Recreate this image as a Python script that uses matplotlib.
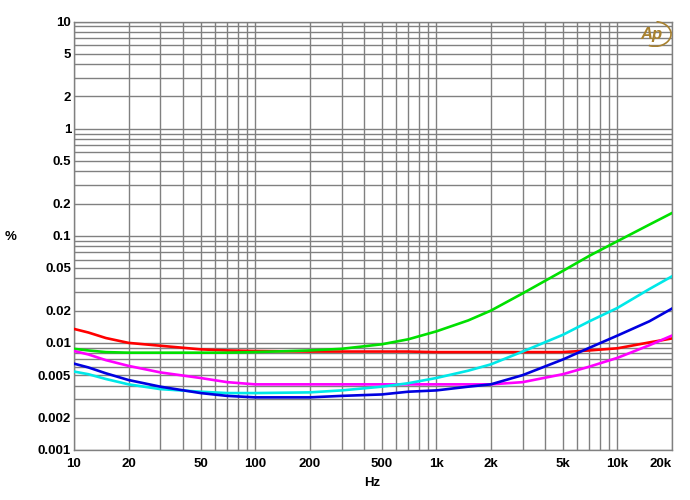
import matplotlib
matplotlib.use("Agg")
import matplotlib.pyplot as plt
from matplotlib.patches import Arc
from matplotlib.ticker import FixedLocator, NullFormatter

# ---------- Date ----------
freq = [10, 12, 15, 20, 30, 50, 70, 100, 200, 300, 500, 700,
        1000, 1500, 2000, 3000, 5000, 7000, 10000, 15000, 20000]

red = [0.0135, 0.0125, 0.0111, 0.0100, 0.0094, 0.0087, 0.0085, 0.0084, 0.0083, 0.0083, 0.0083, 0.0083,
       0.0082, 0.0082, 0.0082, 0.0082, 0.0082, 0.0085, 0.0089, 0.0101, 0.0110]
green = [0.0088, 0.0085, 0.0082, 0.0081, 0.0081, 0.0081, 0.0081, 0.0082, 0.0085, 0.0088, 0.0097, 0.0108,
         0.0128, 0.0162, 0.0200, 0.0290, 0.0470, 0.0650, 0.0890, 0.1270, 0.1630]
cyan = [0.0054, 0.0051, 0.0046, 0.0041, 0.0037, 0.0035, 0.0034, 0.0034, 0.00345, 0.0036, 0.0039, 0.0042,
        0.0047, 0.0055, 0.0063, 0.0083, 0.0119, 0.0159, 0.0212, 0.0318, 0.0418]
blue = [0.0064, 0.0059, 0.0052, 0.0045, 0.0039, 0.0034, 0.0032, 0.0031, 0.0031, 0.0032, 0.0033, 0.0035,
        0.0036, 0.0039, 0.0041, 0.0050, 0.0070, 0.0090, 0.0117, 0.0159, 0.0209]
magenta = [0.0084, 0.0078, 0.0069, 0.0061, 0.0053, 0.0047, 0.0043, 0.0041, 0.0041, 0.0041, 0.0041, 0.0041,
           0.0041, 0.0041, 0.0041, 0.0043, 0.0051, 0.0060, 0.00725, 0.0095, 0.0117]

xticks = [10, 20, 50, 100, 200, 500, 1000, 2000, 5000, 10000, 20000]
xlabels = ['10', '20', '50', '100', '200', '500', '1k', '2k', '5k', '10k', '20k']
yticks = [0.001, 0.002, 0.005, 0.01, 0.02, 0.05, 0.1, 0.2, 0.5, 1, 2, 5, 10]
ylabels = ['0.001', '0.002', '0.005', '0.01', '0.02', '0.05', '0.1', '0.2', '0.5', '1', '2', '5', '10']

GRID = '#808080'

plt.rcParams['font.family'] = ['Liberation Sans', 'DejaVu Sans']

fig = plt.figure(figsize=(6.9, 5.0), dpi=100)
ax = fig.add_axes([0.1072, 0.1, 0.8667, 0.857])

ax.set_xscale('log')
ax.set_yscale('log')
ax.set_xlim(10, 20000)
ax.set_ylim(0.001, 10)

# grila: toate liniile 1..9 pe fiecare decada
xgrid = [m * 10 ** d for d in range(1, 5) for m in range(1, 10) if m * 10 ** d <= 20000]
ygrid = [m * 10.0 ** d for d in range(-3, 2) for m in range(1, 10) if m * 10.0 ** d <= 10]
for xv in xgrid:
    ax.axvline(xv, color=GRID, lw=1.0, zorder=1)
for yv in ygrid:
    ax.axhline(yv, color=GRID, lw=1.0, zorder=1)

ax.plot(freq, red, color='#ff0000', lw=1.9, zorder=3)
ax.plot(freq, green, color='#00e000', lw=1.9, zorder=3)
ax.plot(freq, magenta, color='#ff00ff', lw=1.9, zorder=3)
ax.plot(freq, cyan, color='#00e8e8', lw=1.9, zorder=3)
ax.plot(freq, blue, color='#0000e0', lw=1.9, zorder=4)

ax.xaxis.set_major_locator(FixedLocator(xticks))
ax.set_xticklabels(xlabels)
ax.xaxis.set_minor_formatter(NullFormatter())
ax.yaxis.set_major_locator(FixedLocator(yticks))
ax.set_yticklabels(ylabels)
ax.yaxis.set_minor_formatter(NullFormatter())
ax.tick_params(which='both', length=0, labelsize=9.5, labelcolor='#000000')
ax.tick_params(axis='x', pad=6)
ax.tick_params(axis='y', pad=2)
for lbl in ax.get_xticklabels() + ax.get_yticklabels():
    lbl.set_fontweight('bold')
ax.get_xticklabels()[-1].set_horizontalalignment('right')

for sp in ax.spines.values():
    sp.set_color(GRID)
    sp.set_linewidth(1.0)

fig.text(11 / 690, 1 - 237 / 500, '%', fontsize=9.5, fontweight='bold', ha='center', va='center')
fig.text(372 / 690, 1 - 483 / 500, 'Hz', fontsize=9.5, fontweight='bold', ha='center', va='center')

# sigla AP
gold = '#a8812f'
fig.text(651 / 690, 1 - 34 / 500, 'Ap', fontsize=12, fontstyle='italic', fontweight='bold',
         color=gold, ha='center', va='center')
logo = fig.add_axes([634 / 690, 1 - 47 / 500, 38 / 690, 26 / 500])
logo.axis('off')
logo.set_xlim(0, 1)
logo.set_ylim(0, 1)
logo.add_patch(Arc((0.55, 0.5), 0.85, 0.95, theta1=-110, theta2=85, color=gold, lw=1.2))

fig.savefig('out.png', dpi=100)
